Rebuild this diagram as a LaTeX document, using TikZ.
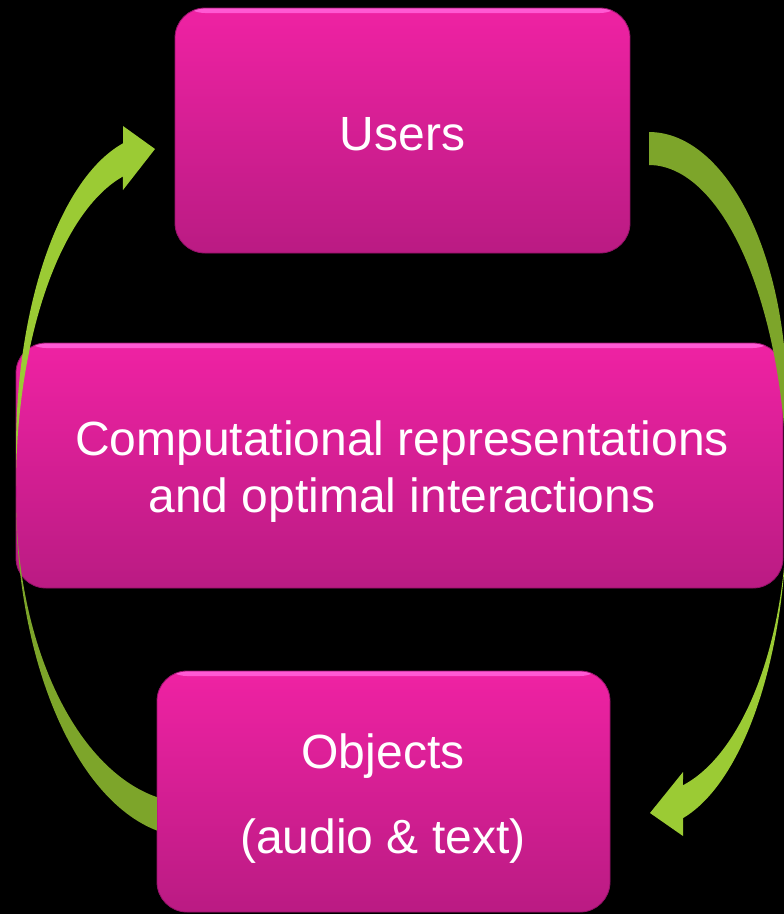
\documentclass[tikz,border=0pt]{standalone}
\usepackage{fontspec}
\setmainfont{Liberation Sans}

\definecolor{boxtop}{RGB}{239,34,163}
\definecolor{boxbot}{RGB}{186,27,131}
\definecolor{boxrim}{RGB}{255,90,212}
\definecolor{boxshade}{RGB}{150,18,105}
\definecolor{arrowlit}{RGB}{155,203,52}
\definecolor{arrowdim}{RGB}{125,165,42}

\begin{document}
\begin{tikzpicture}[x=1pt,y=-1pt,
  card/.style={rounded corners=30pt, top color=boxtop, bottom color=boxbot,
    draw=boxshade, line width=0.8pt, inner sep=0pt,
    path picture={\shade[top color=boxrim, bottom color=boxtop]
      (path picture bounding box.north west) rectangle
      ([yshift=-5pt]path picture bounding box.north east);}},
  lbl/.style={text=white, font=\fontsize{48}{57}\selectfont, inner sep=0pt, anchor=base},
  sweep/.style={domain=0:1, samples=60, variable=\t},
]
% page and black backdrop
\useasboundingbox (0,0) rectangle (784,914);
\fill[black] (0,0) rectangle (784,914);

% the three rounded panels
\node[card, minimum width=455pt, minimum height=245pt] (users) at (402.5,130.5) {};
\node[card, minimum width=767pt, minimum height=245pt] (core) at (399.5,465.5) {};
\node[card, minimum width=453pt, minimum height=241pt] (objects) at (383.5,791.5) {};

% panel texts
\node[lbl] (userstxt) at (402.5,150) {Users};
\node[lbl] (coretxta) at (402,455) {Computational representations};
\node[lbl] (coretxtb) at (402,512) {and optimal interactions};
\node[lbl] (objtxta) at (383,768) {Objects};
\node[lbl] (objtxtb) at (383,853) {(audio \& text)};

\begin{scope}
\clip (0,0) rectangle (784,914);
% left curved arrow: from the Objects panel up to the Users panel
\fill[arrowdim]
  plot[sweep] ({191+175*cos(180-78.8*\t)}, {500+337*sin(180-78.8*\t)})
  -- plot[sweep] ({191+175*cos(101.2+78.8*\t)}, {497+306*sin(101.2+78.8*\t)})
  -- cycle;
\fill[arrowlit]
  (123,143)
  -- plot[sweep] ({157+141*cos(256.05-76.05*\t)}, {449+315*sin(256.05-76.05*\t)})
  -- plot[sweep] ({157+141*cos(180+76.05*\t)}, {486+319*sin(180+76.05*\t)})
  -- (123,190) -- (155,149) -- (123,126) -- cycle;

% right curved arrow: from the Users panel down to the Objects panel
\fill[arrowdim]
  plot[sweep] ({649+138*cos(270+90*\t)}, {401+269*sin(270+90*\t)})
  -- plot[sweep] ({649+138*cos(360-90*\t)}, {494+329*sin(360-90*\t)})
  -- cycle;
\fill[arrowlit]
  plot[sweep] ({649+138*cos(75.74*\t)}, {508+320*sin(75.74*\t)})
  -- (683,836) -- (650,813) -- (683,772)
  -- plot[sweep] ({649+138*cos(75.74-75.74*\t)}, {509+285*sin(75.74-75.74*\t)})
  -- cycle;
\end{scope}
\end{tikzpicture}
\end{document}
